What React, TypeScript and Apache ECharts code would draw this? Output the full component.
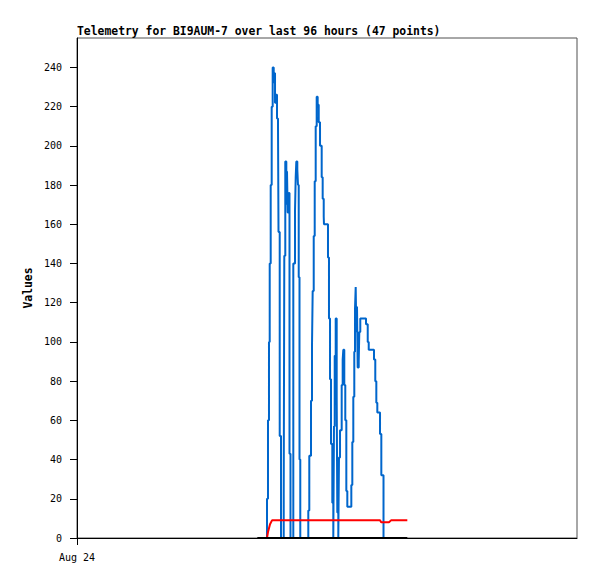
import React, { useEffect, useRef } from "react";
import * as echarts from "echarts";

const titleText = "Telemetry for BI9AUM-7 over last 96 hours (47 points)";
const yAxisName = "Values";
const xTickLabel = "Aug 24";
const yTicks = [0, 20, 40, 60, 80, 100, 120, 140, 160, 180, 200, 220, 240];

// hours since start of window
const blueHours = [
  36.48, 36.48, 36.67, 36.86, 37.0, 37.19, 37.38, 37.57, 37.77, 37.88, 38.02, 38.21, 38.4, 38.59, 38.69, 38.92, 39.17,
  39.69, 39.8, 39.99, 40.19, 40.32, 40.45, 40.65, 40.8, 40.99,
  41.53, 41.86, 41.99, 42.11, 42.3, 42.43, 42.57, 42.72, 42.87,
  44.41, 44.6, 44.93, 45.12, 45.25, 45.45, 45.64, 45.83, 46.02, 46.21, 46.41, 46.66, 46.98, 47.17, 47.37, 47.42,
  48.19, 48.38, 48.58, 48.77, 49.02, 49.21, 49.34, 49.48, 49.67, 49.86, 49.98, 50.17,
  50.3, 50.5, 50.82, 51.01, 51.13, 51.32, 51.51, 51.71, 51.9,
  52.67, 52.86, 53.05, 53.24, 53.38, 53.51, 53.63, 53.76, 53.89, 54.09, 54.2, 54.39,
  55.49, 55.82, 56.01, 57.02, 57.27, 57.47, 57.66, 58.18, 58.43, 58.85,
];
const blueValues = [
  0, 20, 60, 100, 140, 180, 220, 240, 232, 237, 222, 226, 214, 211, 156, 52, 0,
  22, 144, 192, 170, 187, 166, 176, 43, 0,
  140, 167, 184, 192, 188, 180, 133, 40, 0,
  14, 42, 70, 98, 126, 154, 182, 210, 225, 221, 212, 200, 184, 173, 164, 160,
  143, 112, 81, 48, 18, 0, 57, 93, 112, 72, 13, 0,
  41, 55, 78, 91, 96, 78, 60, 24, 16,
  27, 49, 72, 95, 117, 128, 105, 118, 87, 90, 105, 112,
  109, 100, 96, 91, 80, 69, 64, 53, 32, 0,
];

const redHours = [36.48, 36.67, 36.86, 37.06, 37.44, 58.18, 58.4, 59.9, 60.29, 63.42];
const redValues = [0, 3, 5, 7, 9, 9, 8, 8, 9, 9];

const blackHours = [34.62, 63.42];
const blackValues = [0, 0];

const zip = (xs: number[], ys: number[]) => xs.map((x, i) => [x, ys[i]]);

const FONT = "DejaVu Sans Mono";

export default function App() {
  const ref = useRef<HTMLDivElement>(null);
  useEffect(() => {
    if (!ref.current) return;
    const chart = echarts.init(ref.current, undefined, { renderer: "svg" });
    chart.setOption({
      animation: false,
      backgroundColor: "#ffffff",
      title: {
        text: titleText,
        left: 77,
        top: 25,
        padding: 0,
        textStyle: { fontFamily: FONT, fontSize: 11.4, fontWeight: "bold", color: "#000" },
      },
      grid: {
        left: 77,
        top: 38,
        right: 20,
        bottom: 41,
        show: true,
        borderColor: "#505050",
        borderWidth: 1,
        backgroundColor: "transparent",
      },
      xAxis: {
        type: "value",
        min: 0,
        max: 96,
        splitLine: { show: false },
        axisLine: { show: true, lineStyle: { color: "#000", width: 1 } },
        axisTick: { show: true, customValues: [0], length: 7, lineStyle: { color: "#000" } },
        axisLabel: {
          customValues: [0],
          formatter: () => xTickLabel,
          fontFamily: FONT,
          fontSize: 10,
          color: "#000",
          margin: 14,
        },
      },
      yAxis: {
        type: "value",
        min: 0,
        max: 255,
        name: yAxisName,
        nameLocation: "middle",
        nameRotate: 90,
        nameGap: 42,
        nameTextStyle: { fontFamily: FONT, fontSize: 11.4, fontWeight: "bold", color: "#000" },
        splitLine: { show: false },
        axisLine: { show: true, lineStyle: { color: "#000", width: 1 } },
        axisTick: { show: true, customValues: yTicks, length: 7, lineStyle: { color: "#000" } },
        axisLabel: {
          customValues: yTicks,
          fontFamily: FONT,
          fontSize: 10,
          color: "#000",
          margin: 15,
        },
      },
      series: [
        {
          type: "line",
          step: "end",
          data: zip(blueHours, blueValues),
          showSymbol: false,
          lineStyle: { color: "#0066cc", width: 2 },
          itemStyle: { color: "#0066cc" },
          z: 2,
        },
        {
          type: "line",
          data: zip(redHours, redValues),
          showSymbol: false,
          lineStyle: { color: "#ff0000", width: 2 },
          itemStyle: { color: "#ff0000" },
          z: 3,
        },
        {
          type: "line",
          data: zip(blackHours, blackValues),
          showSymbol: false,
          lineStyle: { color: "#000000", width: 2 },
          itemStyle: { color: "#000000" },
          z: 4,
        },
      ],
    });
    return () => chart.dispose();
  }, []);
  return (
    <div
      ref={ref}
      style={{ position: "absolute", left: 0, top: 0, width: 597, height: 579 }}
    />
  );
}
